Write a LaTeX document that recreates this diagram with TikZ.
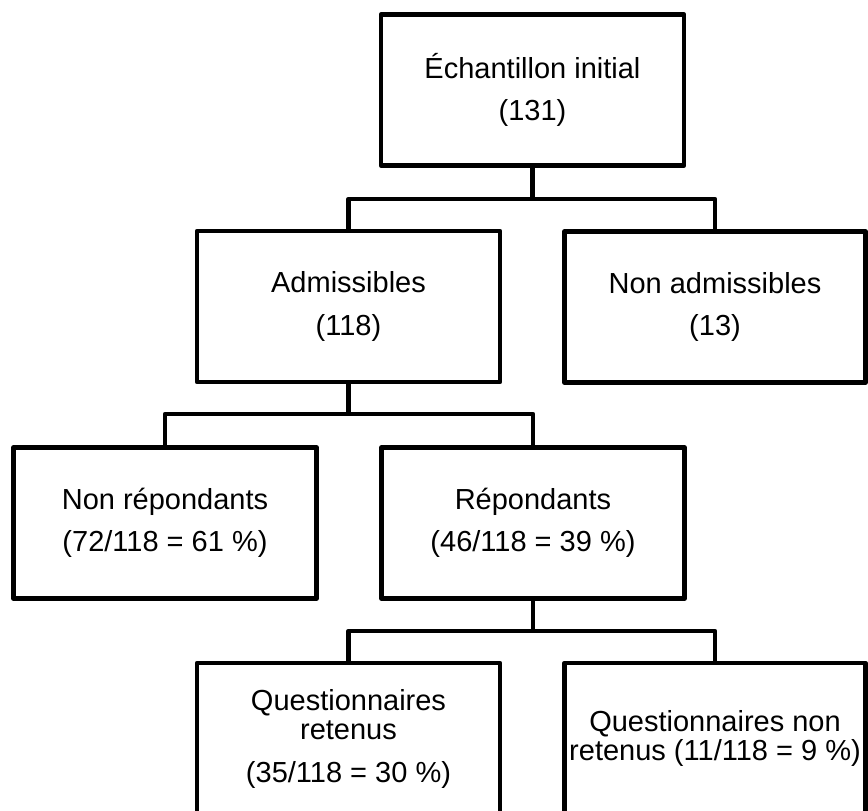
\documentclass[tikz,border=0pt]{standalone}
\usepackage{fontspec}
\setmainfont{Liberation Sans}
\begin{document}
\begin{tikzpicture}[x=1pt,y=-1pt,
   box/.style={draw,line width=4.5pt,line join=round,minimum width=303pt,
     minimum height=151pt,inner sep=0pt,align=center,
     font=\fontsize{29}{29.5}\selectfont},
   link/.style={line width=4.5pt,line join=round}]
   \useasboundingbox (0,0) rectangle (868,811);
   \clip (0,0) rectangle (868,811);

   \node[box] (init) at (532.5,90) {Échantillon initial\\[13pt](131)};
   \node[box] (adm) at (348.5,306.5) {Admissibles\\[13pt](118)};
   \node[box,minimum width=301pt] (nonadm) at (715,307) {Non admissibles\\[13pt](13)};
   \node[box] (nonrep) at (165,523) {Non répondants\\[13pt](72/118 = 61 \%)};
   \node[box] (rep) at (533,523) {Répondants\\[13pt](46/118 = 39 \%)};
   \node[box] (qret) at (348.5,738.5) {Questionnaires\\retenus\\[13pt](35/118 = 30 \%)};
   \node[box,minimum width=301pt] (qnonret) at (715,738.5)
      {Questionnaires non\\retenus (11/118 = 9 \%)};

   \coordinate (j1) at (532.5,199);
   \coordinate (j2) at (348.5,414);
   \coordinate (j3) at (533,631);

   \draw[link] (init) -- (j1);
   \draw[link] (adm.north) |- (j1) -| (nonadm.north);
   \draw[link] (adm) -- (j2);
   \draw[link] (nonrep.north) |- (j2) -| (rep.north);
   \draw[link] (rep) -- (j3);
   \draw[link] (qret.north) |- (j3) -| (qnonret.north);
\end{tikzpicture}
\end{document}
